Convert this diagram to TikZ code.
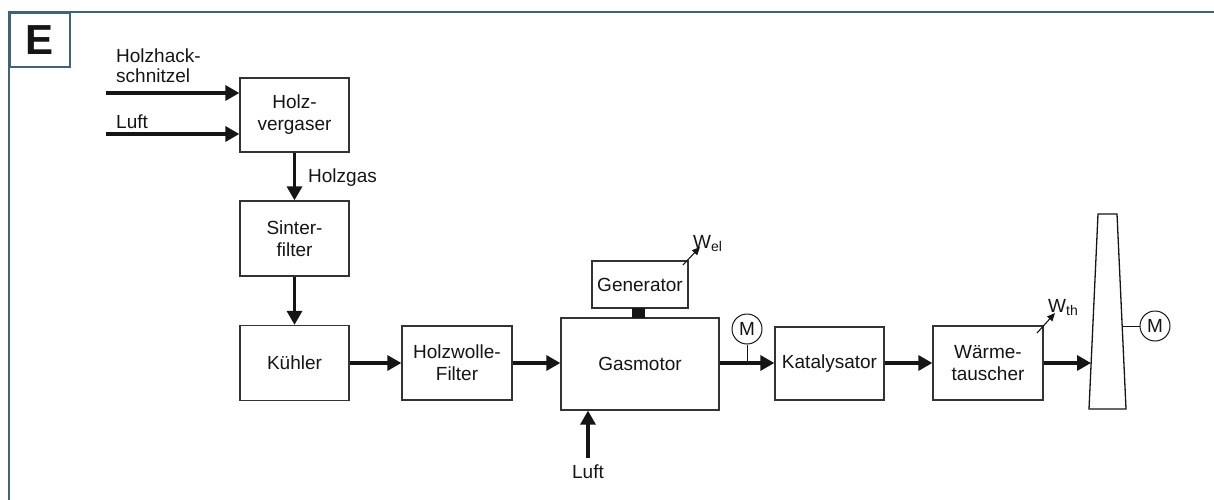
\documentclass[tikz,border=0pt]{standalone}
\usepackage{fontspec}
\setmainfont{Liberation Sans}
\usetikzlibrary{arrows.meta}
\definecolor{framecol}{HTML}{3F6478}
\definecolor{ink}{HTML}{151515}

\begin{document}
\begin{tikzpicture}[x=1pt,y=-1pt,
  every node/.style={font=\fontsize{19}{22}\selectfont, text=ink},
  box/.style={draw=black!80, line width=1.3pt, fill=white, inner sep=0pt, align=center},
  lbl/.style={inner sep=0pt},
  flow/.style={draw=ink, line width=3.3pt, -{Triangle[length=14pt,width=15pt]}},
  power/.style={draw=ink, line width=1.1pt, -{Triangle[length=8pt,width=7pt]}},
  tie/.style={draw=ink, line width=1pt},
  meter/.style={draw=ink, line width=1pt, circle, minimum size=30pt, inner sep=0pt, fill=white},
  chimney/.style={draw=ink, line width=1.3pt, line join=miter}]

\useasboundingbox (0,0) rectangle (1214,500);

% outer frame with the letter tab
\draw[framecol, line width=2pt] (1214,12) -- (9,12) -- (9,500);
\node[draw=framecol, line width=2pt, minimum width=60pt, minimum height=54pt, inner sep=0pt,
      font=\fontsize{42}{42}\selectfont\bfseries, anchor=north west] (tab) at (9,12) {E};

% process boxes
\node[box, minimum width=109pt, minimum height=74pt] (verg)   at (294.5,115)   {Holz-\\vergaser};
\node[box, minimum width=109pt, minimum height=75pt] (sinter) at (294.5,238.5) {Sinter-\\filter};
\node[box, minimum width=109pt, minimum height=75pt] (kuehl)  at (294.5,363)   {Kühler};
\node[box, minimum width=110pt, minimum height=74pt] (wolle)  at (457,363)     {Holzwolle-\\Filter};
\node[box, minimum width=158pt, minimum height=92pt] (gas)    at (640,364)     {Gasmotor};
\node[box, minimum width=96pt,  minimum height=47pt] (gen)    at (640,284.5)   {Generator};
\node[box, minimum width=109pt, minimum height=73pt] (kat)    at (829.5,363.5) {Katalysator};
\node[box, minimum width=110pt, minimum height=74pt] (waerme) at (988,363)     {Wärme-\\tauscher};

% shaft coupling between engine and generator
\node[fill=ink, minimum width=13pt, minimum height=10pt, inner sep=0pt] (shaft) at (638.5,313) {};

% feed streams into the gasifier
\coordinate (inWood) at (106,93);
\coordinate (inAir)  at (106,134);
\draw[flow] (inWood) -- (inWood -| verg.west);
\draw[flow] (inAir)  -- (inAir -| verg.west);
\node[lbl, anchor=base west] (woodA) at (116,62.7) {Holzhack-};
\node[lbl, anchor=base west] (woodB) at (116,82.7) {schnitzel};
\node[lbl, anchor=base west] (airA)  at (116,128.3) {Luft};

% gas path
\draw[flow] (verg.south) -- (sinter.north);
\node[lbl, anchor=base west] (gaslbl) at (308,182) {Holzgas};
\draw[flow] (sinter.south) -- (kuehl.north);
\draw[flow] (kuehl.east) -- (wolle.west);
\draw[flow] (wolle.east) -- (wolle.east -| gas.west);
\coordinate (row) at (0,363);
\draw[flow] (gas.east |- row) -- (kat.west |- row);
\draw[flow] (kat.east |- row) -- (waerme.west |- row);

% chimney
\coordinate (chTL) at (1098,214);
\coordinate (chTR) at (1117,214);
\coordinate (chBR) at (1126,409);
\coordinate (chBL) at (1089,409);
\coordinate (chIn) at (1091,363);
\coordinate (chOut) at (1122.2,326);
\draw[chimney] (chTL) -- (chTR) -- (chBR) -- (chBL) -- cycle;
\draw[flow] (waerme.east |- row) -- (chIn);

% measuring points
\node[meter] (m1) at (747,329) {M};
\draw[tie] (m1.south) -- (m1.south |- row);
\node[meter] (m2) at (1155,326) {M};
\draw[tie] (chOut) -- (m2.west);

% combustion air for the engine
\coordinate (airB) at (588,458);
\draw[flow] (airB) -- (airB |- gas.south);
\node[lbl, anchor=base] (airBlbl) at (588,478) {Luft};

% energy outputs
\coordinate (welS) at (683,265);
\coordinate (welT) at (700,247);
\draw[power] (welS) -- (welT);
\node[lbl, anchor=base west] (wel) at (693,248) {W\raisebox{-3pt}{\fontsize{14}{14}\selectfont el}};
\coordinate (wthS) at (1037,333);
\coordinate (wthT) at (1055,313);
\draw[power] (wthS) -- (wthT);
\node[lbl, anchor=base west] (wth) at (1048,312) {W\raisebox{-3pt}{\fontsize{14}{14}\selectfont th}};

\end{tikzpicture}
\end{document}
